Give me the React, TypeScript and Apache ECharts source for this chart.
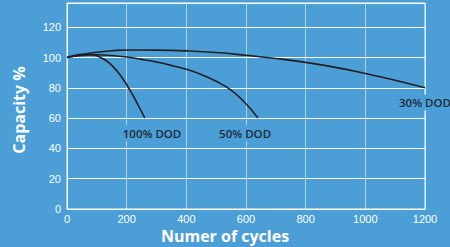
import React, { useEffect, useRef } from "react";
import * as echarts from "echarts";

const dod100: [number, number][] = [
  [0, 100], [20, 101.2], [40, 101.9], [60, 102.2], [80, 102], [100, 101.1], [120, 99.3], [140, 96.6], [160, 92.8], [180, 88], [200, 82], [220, 75.3], [240, 68], [261, 60],
];
const dod50: [number, number][] = [
  [0, 100], [50, 101.4], [100, 101.8], [150, 101.3], [200, 100.3], [250, 98.8], [300, 97], [350, 94.8], [400, 92.2], [450, 88.8], [500, 84.3], [550, 78.5], [590, 71.5], [620, 65], [640, 60],
];
const dod30: [number, number][] = [
  [0, 100], [50, 102], [100, 103.5], [150, 104.5], [200, 105], [300, 104.9], [400, 104.4], [500, 103.3], [600, 101.5], [700, 99.4], [800, 96.8], [900, 93.5], [1000, 89.5], [1100, 85], [1200, 80],
];
const labelsPos = [
  { name: "100% DOD", coord: [285, 50] },
  { name: "50% DOD", coord: [597, 50] },
  { name: "30% DOD", coord: [1200, 70.3] },
];
const xTicks = [0, 200, 400, 600, 800, 1000, 1200];
const yTicks = [0, 20, 40, 60, 80, 100, 120];
const xTitle = "Numer of cycles";
const yTitle = "Capacity %";

const BG = "#4b9ed6";
const LINE = "#231f20";

export default function App() {
  const ref = useRef<HTMLDivElement>(null);
  useEffect(() => {
    const chart = echarts.init(ref.current!, undefined, { renderer: "svg" });
    const mkSeries = (data: [number, number][], withLabels: boolean) => ({
      type: "line",
      data,
      smooth: 0.5,
      showSymbol: false,
      lineStyle: { color: LINE, width: 1.6 },
      z: 3,
      markPoint: withLabels
        ? {
            symbol: "rect",
            symbolSize: 0,
            silent: true,
            data: labelsPos.map((l) => ({ name: l.name, coord: l.coord })),
            label: {
              show: true,
              position: "inside",
              formatter: (p: any) => p.name,
              color: "#1f2a36",
              fontFamily: "Open Sans",
              fontWeight: 600,
              fontSize: 11.5,
              backgroundColor: BG,
              padding: [2, 1],
            },
          }
        : undefined,
    });
    chart.setOption({
      animation: false,
      backgroundColor: BG,
      grid: {
        left: 67,
        right: 25,
        top: 3,
        bottom: 38,
        show: true,
        borderColor: "#ffffff",
        borderWidth: 1,
        backgroundColor: "transparent",
      },
      graphic: [
        {
          type: "text",
          x: 225,
          y: 236,
          style: {
            text: xTitle,
            fill: "#ffffff",
            font: "bold 16px 'Open Sans'",
            textAlign: "center",
            textVerticalAlign: "middle",
          },
        },
        {
          type: "text",
          x: 18.5,
          y: 110,
          rotation: Math.PI / 2,
          style: {
            text: yTitle,
            fill: "#ffffff",
            font: "bold 16px 'Open Sans'",
            textAlign: "center",
            textVerticalAlign: "middle",
          },
        },
      ],
      xAxis: {
        type: "value",
        min: 0,
        max: 1200,
        interval: 200,
        axisLine: { show: true, lineStyle: { color: "#ffffff", width: 1 } },
        axisTick: { show: false },
        axisLabel: {
          color: "#ffffff",
          fontFamily: "Liberation Sans",
          fontSize: 11,
          margin: 4,
          formatter: (v: number) => (xTicks.includes(v) ? String(v) : ""),
        },
        splitLine: { show: true, lineStyle: { color: "rgba(255,255,255,0.55)", width: 1 } },
      },
      yAxis: {
        type: "value",
        min: 0,
        max: 136,
        interval: 20,
        axisLine: { show: true, lineStyle: { color: "#ffffff", width: 1 } },
        axisTick: { show: false },
        axisLabel: {
          color: "#ffffff",
          fontFamily: "Liberation Sans",
          fontSize: 11,
          margin: 6,
          formatter: (v: number) => (yTicks.includes(v) ? String(v) : ""),
        },
        splitLine: { show: true, lineStyle: { color: "#ffffff", width: 1 } },
      },
      series: [mkSeries(dod100, false), mkSeries(dod50, false), mkSeries(dod30, true)],
    });
    return () => chart.dispose();
  }, []);
  return <div ref={ref} style={{ width: 450, height: 247, position: "fixed", left: 0, top: 0 }} />;
}
